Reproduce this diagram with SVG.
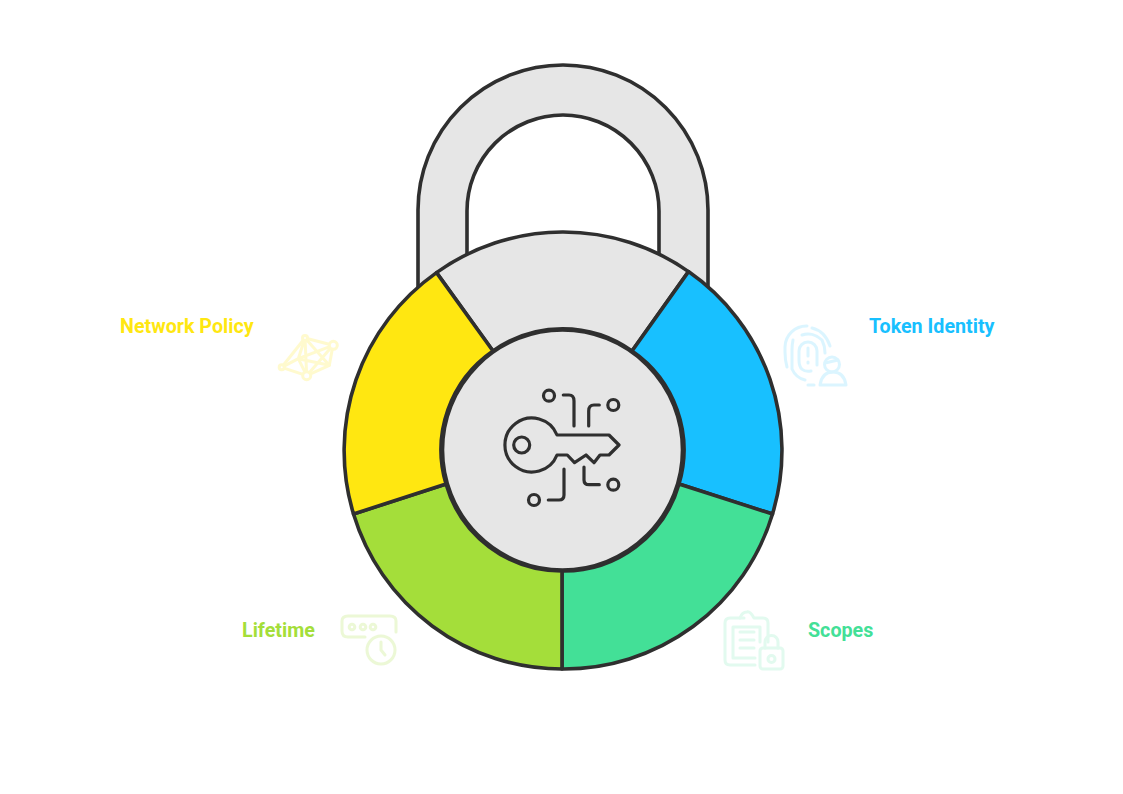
<svg xmlns="http://www.w3.org/2000/svg" width="1123" height="794" viewBox="0 0 1123 794">
<style>
.s{stroke:#2f2f2f;stroke-width:3.600;stroke-linejoin:round}
.k{fill:none;stroke:#2f2f2f;stroke-width:3.200;stroke-linecap:round;stroke-linejoin:round}
.l{font-family:Roboto,"Liberation Sans",sans-serif;font-weight:700;font-size:19.700px;dominant-baseline:central}
.i{fill:none;stroke-width:3;stroke-linecap:round;stroke-linejoin:round;opacity:.15}
</style>
<rect width="1123" height="794" fill="#ffffff"/>
<g id="lock">
<path id="shackle" class="s" fill="#e6e6e6" d="M418 292V210A145 145 0 0 1 708 210V292L659 260V211A96 96 0 0 0 467 211V260Z"/>
<path id="seg-top" class="s" fill="#e6e6e6" d="M436.500 272.600A218 218 0 0 1 688.500 271.600L632 351A120 120 0 0 0 493 351Z"/>
<path id="seg-blue" class="s" fill="#18c0ff" d="M688.500 271.600A218 218 0 0 1 772.500 514L679 484A120 120 0 0 0 632 351Z"/>
<path id="seg-teal" class="s" fill="#43e097" d="M772.500 514A218 218 0 0 1 562 669V571A120 120 0 0 0 679 484Z"/>
<path id="seg-green" class="s" fill="#a4de3a" d="M562 669A218 218 0 0 1 353.500 514L446 484A120 120 0 0 0 562 571Z"/>
<path id="seg-yellow" class="s" fill="#ffe711" d="M353.500 514A218 218 0 0 1 436.500 272.600L493 351A120 120 0 0 0 446 484Z"/>
<circle id="hub" class="s" fill="#e6e6e6" cx="562.500" cy="450" r="120"/>
</g>
<g id="key-icon" class="k">
<path d="M557 435A27 27 0 1 0 557 455H561L567.300 455L574.500 462.700L586 455L594 462.700L600 455H609L619 445L609 435Z"/>
<circle cx="521.700" cy="445" r="8"/>
<circle cx="549" cy="395.700" r="5.500"/>
<circle cx="613.300" cy="405" r="5.500"/>
<circle cx="534" cy="500" r="5.500"/>
<circle cx="613.300" cy="484.700" r="5.500"/>
<path d="M563.300 395H569Q574 395 574 401V426"/>
<path d="M588.700 426V411Q588.700 405 594 405H599.300"/>
<path d="M564 469V495Q564 500 559 500H548.300"/>
<path d="M584 467V480Q584 484.700 589 484.700H599.300"/>
</g>
<g id="token-identity">
<text class="l" x="869" y="326" fill="#18c0ff">Token Identity</text>
<g class="i" stroke="#18c0ff">
<path d="M787 367Q785 360 785 352V347A21.500 21.500 0 0 1 807 326"/>
<path d="M812 328Q825 331 830 346"/>
<path d="M793 340Q792 345 792 350V369Q796 378 805 380"/>
<path d="M802 335A20 20 0 0 1 822 340Q825 346 825 353"/>
<path d="M811 371Q799 373 799 360V351A9 9 0 0 1 817 351V365"/>
<path d="M808 348V356M808 362V363"/>
<path d="M808 385H814"/>
<circle cx="832" cy="364.500" r="7.500"/>
<path d="M825 363L838 360"/>
<path d="M820 385Q822 372 833 372Q844 372 846 385Z"/>
</g>
</g>
<g id="network-policy">
<text class="l" x="120" y="326" fill="#ffe711">Network Policy</text>
<g class="i" stroke="#ffe711" style="opacity:.2">
<path d="M305 338L333 345.300L329.300 365.300L306.700 375.700L281.700 367.300Z"/>
<path d="M305 338L298.300 358.700L306.700 375.700M305 338L329.300 365.300M305 338L306.700 375.700M281.700 367.300L298.300 358.700L333 345.300M298.300 358.700L329.300 365.300M306.700 375.700L333 345.300"/>
<circle cx="333.300" cy="345.300" r="4" fill="#ffffff"/><circle cx="306.700" cy="375.700" r="4" fill="#ffffff"/><circle cx="281.700" cy="367.300" r="2.500" fill="#ffffff"/><circle cx="305" cy="338" r="2.500" fill="#ffffff"/>
</g>
</g>
<g id="lifetime">
<text class="l" x="242" y="630" fill="#a4de3a">Lifetime</text>
<g class="i" stroke="#a4de3a" style="opacity:.2">
<path d="M365 637H348Q342 637 342 631V621Q342 616 348 616H390Q396 616 396 621V632"/>
<circle cx="352" cy="627" r="2.800"/><circle cx="363" cy="627" r="2.800"/><circle cx="373" cy="627" r="2.800"/>
<circle cx="381" cy="650" r="14"/>
<path d="M381 642V650L385 655"/>
</g>
</g>
<g id="scopes">
<text class="l" x="808" y="630" fill="#43e097">Scopes</text>
<g class="i" stroke="#43e097">
<path d="M744 618H730Q725 618 725 623V660Q725 665 730 665H755"/>
<path d="M768 642V623Q768 618 763 618H754Q750 611 747 612Q742 612 740 618"/>
<path d="M733 627V658H755M733 627H760V642"/>
<path d="M740 632H754M740 640H754M740 648H754"/>
<rect x="760" y="648" width="23" height="21" rx="3"/>
<path d="M765 648V642A6.500 6.500 0 0 1 778 642V648"/>
<circle cx="771.500" cy="659" r="3.500"/>
</g>
</g>
</svg>
